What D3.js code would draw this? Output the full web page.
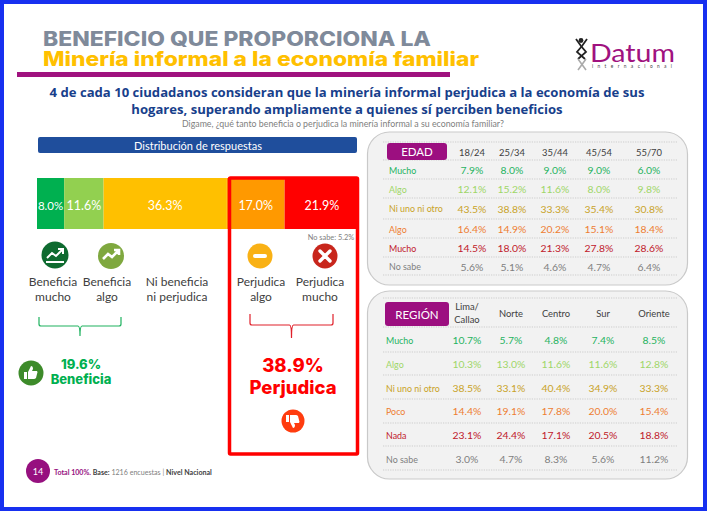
<!DOCTYPE html>
<html>
<head>
<meta charset="utf-8">
<script src="https://cdn.jsdelivr.net/npm/d3@7"></script>
<style>
  html, body { margin: 0; padding: 0; background: #fff; }
  svg { display: block; }
  text { font-family: Lato, "Open Sans", sans-serif; }
</style>
</head>
<body>
<svg id="chart" width="707" height="511"></svg>
<script>
// distribution bar
var barLabels = ['Beneficia mucho', 'Beneficia algo', 'Ni beneficia ni perjudica', 'Perjudica algo', 'Perjudica mucho'];
var barValues = [8.0, 11.6, 36.3, 17.0, 21.9];
var barColors = ['#00b050', '#92d050', '#ffc000', '#ff9900', '#ff0000'];

// table rows, shared look
var rowColors = ['#1fb25f', '#9ed667', '#c9a227', '#ee7d31', '#c0182a', '#7f7f7f'];

var edadCols = ['18/24', '25/34', '35/44', '45/54', '55/70'];
var edadRows = ['Mucho', 'Algo', 'Ni uno ni otro', 'Algo', 'Mucho', 'No sabe'];
var edadValues = [
    [7.9, 8.0, 9.0, 9.0, 6.0],
    [12.1, 15.2, 11.6, 8.0, 9.8],
    [43.5, 38.8, 33.3, 35.4, 30.8],
    [16.4, 14.9, 20.2, 15.1, 18.4],
    [14.5, 18.0, 21.3, 27.8, 28.6],
    [5.6, 5.1, 4.6, 4.7, 6.4]
];

var regionCols = ['Lima/\nCallao', 'Norte', 'Centro', 'Sur', 'Oriente'];
var regionRows = ['Mucho', 'Algo', 'Ni uno ni otro', 'Poco', 'Nada', 'No sabe'];
var regionValues = [
    [10.7, 5.7, 4.8, 7.4, 8.5],
    [10.3, 13.0, 11.6, 11.6, 12.8],
    [38.5, 33.1, 40.4, 34.9, 33.3],
    [14.4, 19.1, 17.8, 20.0, 15.4],
    [23.1, 24.4, 17.1, 20.5, 18.8],
    [3.0, 4.7, 8.3, 5.6, 11.2]
];

var svg = d3.select('#chart');
var fmt = function (v) { return v.toFixed(1) + '%'; };

function label(g, x, y, str, size, color, anchor, weight, family) {
    return g.append('text')
        .attr('x', x)
        .attr('y', y)
        .attr('text-anchor', anchor || 'middle')
        .attr('dominant-baseline', 'central')
        .attr('font-size', size)
        .attr('font-weight', weight || 400)
        .attr('fill', color)
        .style('font-family', family || null)
        .text(str);
}

//stretch wide display text, no Montserrat here
function stretch(sel, w) {
    return sel.attr('textLength', w).attr('lengthAdjust', 'spacingAndGlyphs');
}

//page frame
svg.append('rect').attr('x', 2).attr('y', 2).attr('width', 703).attr('height', 507)
    .attr('fill', '#fff').attr('stroke', '#1730f0').attr('stroke-width', 4);

//header
var head = svg.append('g');
stretch(label(head, 43, 39, 'BENEFICIO QUE PROPORCIONA LA', 20, '#7f8a9a', 'start', 800, 'Inter'), 388);
stretch(label(head, 43, 58.5, 'Minería informal a la economía familiar', 20, '#ffc000', 'start', 800, 'Inter'), 436);
head.append('rect').attr('x', 17).attr('y', 72).attr('width', 433).attr('height', 5).attr('fill', '#a0127f');
label(head, 347, 92, '4 de cada 10 ciudadanos consideran que la minería informal perjudica a la economía de sus', 13.1, '#17408b', 'middle', 700, 'Open Sans');
label(head, 347, 109, 'hogares, superando ampliamente a quienes sí perciben beneficios', 13.1, '#17408b', 'middle', 700, 'Open Sans');
label(head, 343, 123, 'Digame, ¿qué tanto beneficia o perjudica la minería informal a su economía familiar?', 8.8, '#808080');

//logo
var logo = svg.append('g');
stretch(label(logo, 590, 52, 'Datum', 25, '#a0127f', 'start', 400, 'Lato'), 85);
label(logo, 592, 65.5, 'internacional', 4.8, '#444', 'start').attr('letter-spacing', 4.4);
logo.append('circle').attr('cx', 581).attr('cy', 40.5).attr('r', 2.4).attr('fill', '#222');
logo.append('path').attr('d', 'M576 39 L581 46 L586 52 L578 59').attr('fill', 'none').attr('stroke', '#222').attr('stroke-width', 1.8);
logo.append('path').attr('d', 'M587 39 L582 46 L577 52 L585 59').attr('fill', 'none').attr('stroke', '#222').attr('stroke-width', 1.8);
logo.append('path').attr('d', 'M578 59 L586 70 M586 59 L578 70').attr('stroke', '#aaa').attr('stroke-width', 1.6);

//section title
svg.append('rect').attr('x', 38).attr('y', 137).attr('width', 319).attr('height', 16).attr('rx', 2).attr('fill', '#1f4e9c');
label(svg, 198, 145, 'Distribución de respuestas', 11, '#fff');

//stacked bar
var barX = d3.scaleLinear().domain([0, d3.sum(barValues)]).range([37, 359]);
var barY = 178, barH = 51;
var cum = d3.cumsum(barValues);
var segs = barValues.map(function (v, i) {
    return { value: v, start: i ? cum[i - 1] : 0, end: cum[i], color: barColors[i] };
});
var bar = svg.append('g');
bar.selectAll('rect').data(segs).enter().append('rect')
    .attr('x', function (d) { return barX(d.start); })
    .attr('y', barY)
    .attr('width', function (d) { return barX(d.end) - barX(d.start); })
    .attr('height', barH)
    .attr('fill', function (d) { return d.color; });
bar.selectAll('text').data(segs).enter().append('text')
    .attr('x', function (d) { return (barX(d.start) + barX(d.end)) / 2; })
    .attr('y', barY + 27)
    .attr('text-anchor', 'middle')
    .attr('dominant-baseline', 'central')
    .attr('font-size', function (d, i) { return i === 0 ? 11.5 : 12.5; })
    .attr('fill', '#fff')
    .text(function (d) { return fmt(d.value); });

//red frame
svg.append('rect').attr('x', 229.5).attr('y', 178).attr('width', 128).attr('height', 276)
    .attr('rx', 1).attr('fill', 'none').attr('stroke', '#ff0000').attr('stroke-width', 3.5);
label(svg, 331, 237, 'No sabe: 5.2%', 7.4, '#808080');

//answer labels below the bar
var answerX = d3.scaleOrdinal().domain(barLabels).range([53, 107, 177, 261, 320]);
var answerLines = [['Beneficia', 'mucho'], ['Beneficia', 'algo'], ['Ni beneficia', 'ni perjudica'], ['Perjudica', 'algo'], ['Perjudica', 'mucho']];
barLabels.forEach(function (name, i) {
    answerLines[i].forEach(function (line, j) {
        label(svg, answerX(name), 281 + j * 15, line, 12, '#404040');
    });
});

//icons
function icon(cx, cy, r, fill) {
    var g = svg.append('g').attr('transform', 'translate(' + cx + ',' + cy + ')');
    g.append('circle').attr('r', r).attr('fill', fill);
    return g;
}
function trend(g, w) {
    g.append('path').attr('d', 'M-8 3 L-3 -2 L1 1 L7 -5 M3 -6 L8 -6 L8 -1')
        .attr('fill', 'none').attr('stroke', '#fff').attr('stroke-width', w);
}
var up1 = icon(55, 255, 13.5, '#0f6b30');
trend(up1, 2);
up1.append('path').attr('d', 'M-9 7 L9 7').attr('stroke', '#fff').attr('stroke-width', 2);
trend(icon(111, 256, 13, '#7fa83f'), 2.6);
icon(260, 256, 12.5, '#f9b115').append('rect').attr('x', -7).attr('y', -2).attr('width', 14).attr('height', 4).attr('rx', 2).attr('fill', '#fff');
icon(325, 256, 12.5, '#c8261c').append('path').attr('d', 'M-5 -5 L5 5 M5 -5 L-5 5')
    .attr('stroke', '#fff').attr('stroke-width', 3.4).attr('stroke-linecap', 'round');

//braces
function brace(x0, x1, top, y, tip, color) {
    var m = (x0 + x1) / 2;
    svg.append('path')
        .attr('d', 'M' + x0 + ' ' + top + ' L' + x0 + ' ' + (y - 2) + ' Q' + x0 + ' ' + y + ' ' + (x0 + 2) + ' ' + y +
            ' L' + (m - 2) + ' ' + y + ' Q' + m + ' ' + y + ' ' + m + ' ' + tip +
            ' Q' + m + ' ' + y + ' ' + (m + 2) + ' ' + y +
            ' L' + (x1 - 2) + ' ' + y + ' Q' + x1 + ' ' + y + ' ' + x1 + ' ' + (y - 2) + ' L' + x1 + ' ' + top)
        .attr('fill', 'none').attr('stroke', color).attr('stroke-width', 1.2);
}
brace(39, 121, 317, 326, 336, '#1fb25f');
brace(250, 333, 314, 325, 338, '#e0202a');

//totals
var benefit = d3.sum(barValues.slice(0, 2));
var harm = d3.sum(barValues.slice(3));
label(svg, 81, 364, fmt(benefit), 13, '#00b050', 'middle', 800, 'Inter');
label(svg, 81, 379, 'Beneficia', 13, '#00b050', 'middle', 800, 'Inter');
label(svg, 293, 365, fmt(harm), 18.5, '#ff0000', 'middle', 800, 'Inter');
label(svg, 293, 387, 'Perjudica', 18.5, '#ff0000', 'middle', 800, 'Inter');

var thumbUp = icon(31, 373, 12.5, '#3d8b2a');
thumbUp.append('path').attr('d', 'M-7 -1 H-4 V6 H-7 Z M-3 -1 L0 -7 Q2 -7 2 -4 L1 -2 H6 Q7 -1 6 1 L5 5 Q4 6 3 6 H-3 Z').attr('fill', '#fff');
var thumbDown = icon(293, 421, 11.5, '#ff3c0f');
thumbDown.append('path').attr('d', 'M-7 1 H-4 V-6 H-7 Z M-3 1 L0 7 Q2 7 2 4 L1 2 H6 Q7 1 6 -1 L5 -5 Q4 -6 3 -6 H-3 Z').attr('fill', '#fff');

//footer
svg.append('circle').attr('cx', 38).attr('cy', 471).attr('r', 12).attr('fill', '#96107f');
label(svg, 38, 471, '14', 9, '#fff');
var foot = svg.append('text').attr('x', 54).attr('y', 472).attr('dominant-baseline', 'central').attr('font-size', 7.1);
foot.append('tspan').attr('fill', '#96107f').attr('font-weight', 700).text('Total 100%. ');
foot.append('tspan').attr('fill', '#404040').attr('font-weight', 700).text('Base: ');
foot.append('tspan').attr('fill', '#808080').text('1216 encuestas | ');
foot.append('tspan').attr('fill', '#404040').attr('font-weight', 700).text('Nivel Nacional');

//tables
function table(opt) {
    var g = svg.append('g');
    g.append('rect').attr('x', opt.x).attr('y', opt.y).attr('width', opt.w).attr('height', opt.h)
        .attr('rx', 22).attr('fill', '#f2f2f2').attr('stroke', '#c9c9c9').attr('stroke-width', 1.2);
    opt.lines.forEach(function (y) {
        g.append('line').attr('x1', 383).attr('x2', 677).attr('y1', y).attr('y2', y)
            .attr('stroke', '#bfbfbf').attr('stroke-width', 0.7).attr('stroke-dasharray', '1.2 1.2');
    });
    g.append('rect').attr('x', opt.pill[0]).attr('y', opt.pill[1]).attr('width', opt.pill[2]).attr('height', opt.pill[3])
        .attr('rx', 3).attr('fill', '#9c0f80');
    label(g, opt.pill[0] + opt.pill[2] / 2, opt.pill[1] + opt.pill[3] / 2, opt.title, 11.5, '#fff');

    var colX = d3.scaleOrdinal().domain(opt.cols).range(opt.colX);
    var rowY = d3.scaleOrdinal().domain(d3.range(opt.rows.length)).range(opt.rowY);
    opt.cols.forEach(function (c) {
        var parts = c.split('\n');
        parts.forEach(function (p, j) {
            label(g, colX(c), opt.headY + (j - (parts.length - 1) / 2) * 12.5, p, 9.4, '#404040');
        });
    });
    opt.rows.forEach(function (r, i) {
        label(g, opt.labelX, rowY(i), r, 8.9, rowColors[i], 'start');
        opt.values[i].forEach(function (v, j) {
            label(g, colX(opt.cols[j]), rowY(i), fmt(v), 10.4, rowColors[i]);
        });
    });
}

table({
    x: 367.5, y: 132, w: 320, h: 153, title: 'EDAD', cols: edadCols, rows: edadRows, values: edadValues,
    pill: [387, 143, 60, 17], headY: 152, labelX: 389,
    colX: [472, 512, 555, 599, 649],
    rowY: [170, 189, 208.5, 229, 248, 266.5],
    lines: [142, 160, 179, 198, 219, 238, 257, 275]
});
table({
    x: 367.5, y: 291, w: 320, h: 188, title: 'REGIÓN', cols: regionCols, rows: regionRows, values: regionValues,
    pill: [385, 302, 64, 24], headY: 313, labelX: 386,
    colX: [467, 511, 556, 603, 654],
    rowY: [340, 364, 388, 411, 435, 459],
    lines: [298, 327, 352, 375, 399, 423, 446, 470]
});
</script>
</body>
</html>
